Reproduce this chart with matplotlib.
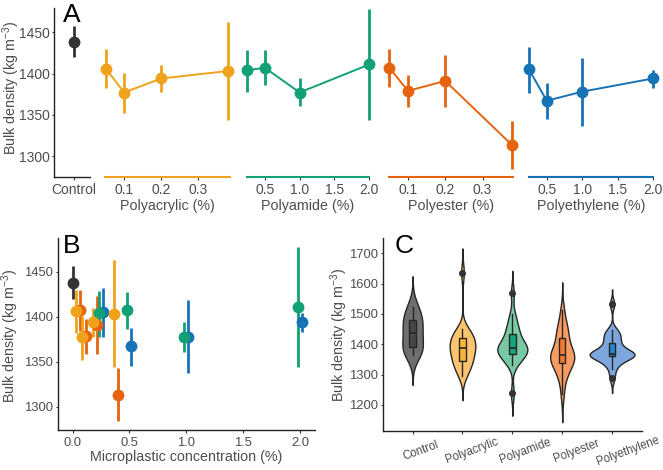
import numpy as np
import matplotlib
matplotlib.use("Agg")
import matplotlib.pyplot as plt
from matplotlib.transforms import ScaledTranslation

plt.rcParams['font.family'] = ['Liberation Sans', 'DejaVu Sans']
plt.rcParams['mathtext.fontset'] = 'custom'
plt.rcParams['mathtext.rm'] = 'Liberation Sans'

# ---- data ----
plastics = ['Polyacrylic', 'Polyamide', 'Polyester', 'Polyethylene']
colors = ['#EFA21C', '#12A077', '#E6640F', '#1673B6']
ctrl_color = '#333333'

conc_low = [0.05, 0.1, 0.2, 0.38]     # polyacrylic, polyester
conc_high = [0.25, 0.5, 1.0, 2.0]     # polyamide, polyethylene
concs = [conc_low, conc_high, conc_low, conc_high]

ctrl_mean, ctrl_lo, ctrl_hi = 1438, 1420, 1457

acryl_mean = [1406, 1377, 1394, 1403]
acryl_lo = [1382, 1352, 1378, 1344]
acryl_hi = [1430, 1401, 1410, 1463]

amide_mean = [1404, 1407, 1377, 1411]
amide_lo = [1378, 1386, 1361, 1344]
amide_hi = [1429, 1428, 1394, 1478]

ester_mean = [1407, 1379, 1391, 1313]
ester_lo = [1384, 1359, 1359, 1284]
ester_hi = [1430, 1398, 1423, 1343]

ethyl_mean = [1405, 1367, 1378, 1394]
ethyl_lo = [1377, 1345, 1337, 1383]
ethyl_hi = [1432, 1388, 1419, 1404]

means = [acryl_mean, amide_mean, ester_mean, ethyl_mean]
los = [acryl_lo, amide_lo, ester_lo, ethyl_lo]
his = [acryl_hi, amide_hi, ester_hi, ethyl_hi]

# raw bulk densities for panel C
ctrl_raw = [1366, 1383, 1392, 1430, 1446, 1478, 1490, 1524]
acryl_raw = [1295, 1308, 1320, 1332, 1340, 1344, 1352, 1362, 1370, 1378, 1384,
             1389, 1394, 1400, 1407, 1414, 1421, 1428, 1435, 1442, 1451, 1636]
amide_raw = [1238, 1330, 1345, 1355, 1360, 1365, 1372, 1378, 1383, 1386, 1388,
             1390, 1395, 1402, 1412, 1425, 1438, 1445, 1460, 1478, 1500, 1568]
ester_raw = [1235, 1285, 1300, 1318, 1330, 1338, 1345, 1352, 1358, 1362, 1364,
             1366, 1372, 1385, 1398, 1422, 1430, 1440, 1455, 1475, 1512]
ethyl_raw = [1288, 1318, 1335, 1345, 1354, 1360, 1362, 1364, 1365, 1366, 1368,
             1369, 1371, 1378, 1388, 1398, 1408, 1418, 1428, 1438, 1446, 1532]
groups_c = ['Control', 'Polyacrylic', 'Polyamide', 'Polyester', 'Polyethylene']
raw_c = [ctrl_raw, acryl_raw, amide_raw, ester_raw, ethyl_raw]
violin_fill = ['#6E6E6E', '#FCC46E', '#79C9A6', '#F99C62', '#7CA6DC']
box_fill = ['#474747', '#F6B63A', '#17A67C', '#F07A32', '#2A86CC']

W, H = 663, 470
fig = plt.figure(figsize=(W / 100, H / 100), dpi=100)


def px_axes(x0, x1, ytop, ybot):
    return fig.add_axes([x0 / W, 1 - ybot / H, (x1 - x0) / W, (ybot - ytop) / H])


def style_spines(ax):
    for s in ['top', 'right']:
        ax.spines[s].set_visible(False)
    for s in ['left', 'bottom']:
        ax.spines[s].set_color('#222222')
        ax.spines[s].set_linewidth(1.0)


tickA = dict(labelsize=10, labelcolor='#4D4D4D', color='#333333', length=1.8, width=0.8, pad=1.5)
tickB = dict(labelsize=9.4, labelcolor='#4D4D4D', color='#333333', length=1.8, width=0.8, pad=1.5)
title_kw = dict(fontsize=10.3, color='#4D4D4D')
ylab = 'Bulk density (kg m$^{\\mathregular{-3}}$)'
pt_kw = dict(fmt='o', ms=7.5, elinewidth=2.0, capsize=0, clip_on=False)


def ylabel_at(xpx, ypx):
    fig.text(xpx / W, 1 - ypx / H, ylab, rotation=90, ha='center', va='center', **title_kw)


# ---------------- panel A ----------------
ytop, ybot = 8.3, 176.7
ylimA = (1275, 1479)
axc = px_axes(54.3, 90, ytop, ybot)
axc.errorbar([0], [ctrl_mean], yerr=[[ctrl_mean - ctrl_lo], [ctrl_hi - ctrl_mean]],
             color=ctrl_color, **pt_kw)
axc.set_xlim(-0.55, 0.45)
axc.set_ylim(*ylimA)
axc.set_xticks([0])
axc.set_xticklabels(['Control'])
axc.set_yticks([1300, 1350, 1400, 1450])
axc.tick_params(**tickA)
axc.tick_params(axis='x', pad=3)
style_spines(axc)
ylabel_at(11, 88)
fig.text(63 / W, 1 - 3 / H, 'A', fontsize=19, va='top', ha='left')

boxesA = [(105, 230, 0.048, 0.386, [0.1, 0.2, 0.3]),
          (246.7, 369.3, 0.24, 2.0, [0.5, 1.0, 1.5, 2.0]),
          (389.3, 512.7, 0.05, 0.381, [0.1, 0.2, 0.3]),
          (529, 653, 0.25, 2.0, [0.5, 1.0, 1.5, 2.0])]
for i, (x0, x1, lo, hi, ticks) in enumerate(boxesA):
    ax = px_axes(x0, x1, ytop, ybot)
    ax.plot(concs[i], means[i], color=colors[i], lw=1.4, clip_on=False)
    yerr = [np.subtract(means[i], los[i]), np.subtract(his[i], means[i])]
    ax.errorbar(concs[i], means[i], yerr=yerr, color=colors[i], **pt_kw)
    ax.set_xlim(lo, hi)
    ax.set_ylim(*ylimA)
    ax.set_xticks(ticks)
    ax.set_xticklabels([f'{t:.1f}' for t in ticks])
    ax.set_yticks([])
    ax.tick_params(**tickA)
    ax.tick_params(axis='x', pad=3)
    for s in ['top', 'right', 'left']:
        ax.spines[s].set_visible(False)
    ax.spines['bottom'].set_color(colors[i])
    ax.spines['bottom'].set_linewidth(1.5)
    ax.set_xlabel(f'{plastics[i]} (%)', labelpad=1, **title_kw)
    ax.patch.set_alpha(0)

# ---------------- panel B ----------------
axB = px_axes(57.7, 315, 237.7, 430)
dodge = [-0.018, -0.018, 0.018, 0.018]
for i in [3, 2, 1, 0]:
    x = np.array(concs[i]) + dodge[i]
    yerr = [np.subtract(means[i], los[i]), np.subtract(his[i], means[i])]
    axB.errorbar(x, means[i], yerr=yerr, color=colors[i], **pt_kw)
axB.errorbar([0], [ctrl_mean], yerr=[[ctrl_mean - ctrl_lo], [ctrl_hi - ctrl_mean]],
             color=ctrl_color, **pt_kw)
axB.set_xlim(-0.13, 2.13)
axB.set_ylim(1274, 1488)
axB.set_xticks([0, 0.5, 1.0, 1.5, 2.0])
axB.set_xticklabels(['0.0', '0.5', '1.0', '1.5', '2.0'])
axB.set_yticks([1300, 1350, 1400, 1450])
axB.tick_params(**tickB)
axB.tick_params(axis='x', pad=3)
style_spines(axB)
axB.set_xlabel('Microplastic concentration (%)', labelpad=1, **title_kw)
ylabel_at(10, 336)
fig.text(63 / W, 1 - 234 / H, 'B', fontsize=19, va='top', ha='left')

# ---------------- panel C ----------------
axC = px_axes(382.7, 642, 237.7, 431)


def kde(vals):
    v = np.asarray(vals, float)
    n = len(v)
    q1, q3 = np.percentile(v, [25, 75])
    bw = 0.9 * min(v.std(ddof=1), (q3 - q1) / 1.34) * n ** -0.2
    grid = np.linspace(v.min() - 3 * bw, v.max() + 3 * bw, 400)
    d = np.exp(-0.5 * ((grid[:, None] - v[None, :]) / bw) ** 2).sum(1)
    return grid, d / (n * bw * np.sqrt(2 * np.pi))


dens = [kde(r) for r in raw_c]
dmax = max(d.max() for _, d in dens)
for i, (g, d) in enumerate(dens):
    half = d / dmax * 0.45
    axC.fill_betweenx(g, i - half, i + half, facecolor=violin_fill[i],
                      edgecolor='#262626', lw=1.0, zorder=2)
bp = axC.boxplot(raw_c, positions=range(5), widths=0.13, patch_artist=True,
                 showcaps=False, manage_ticks=False,
                 boxprops=dict(edgecolor='#262626', lw=1.0),
                 whiskerprops=dict(color='#262626', lw=1.0),
                 medianprops=dict(color='#262626', lw=1.2),
                 flierprops=dict(marker='o', ms=4, mfc='#333333', mec='#333333'),
                 zorder=3)
for patch, c in zip(bp['boxes'], box_fill):
    patch.set_facecolor(c)
axC.set_xlim(-0.6, 4.6)
axC.set_ylim(1114, 1751)
axC.set_yticks([1200, 1300, 1400, 1500, 1600, 1700])
axC.set_xticks(range(5))
axC.set_xticklabels(groups_c, rotation=20, ha='center', va='center',
                    rotation_mode='anchor')
axC.tick_params(**tickB)
axC.tick_params(axis='x', pad=12.5, labelsize=8.3)
label_dx = [8.5, 9.5, 12.5, 14, 15.5]   # px shift of the rotated labels
for lab, dx in zip(axC.get_xticklabels(), label_dx):
    lab.set_transform(lab.get_transform() + ScaledTranslation(dx / 100, 0, fig.dpi_scale_trans))
style_spines(axC)
ylabel_at(339, 335)
fig.text(395 / W, 1 - 234 / H, 'C', fontsize=19, va='top', ha='left')

fig.savefig('out.png', dpi=100)
